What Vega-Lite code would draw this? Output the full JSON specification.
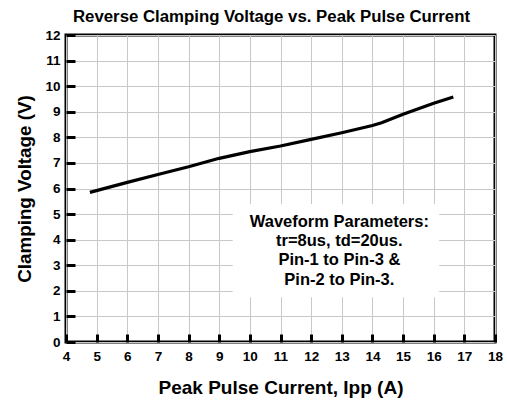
{
  "$schema": "https://vega.github.io/schema/vega-lite/v6.json",
  "width": 429,
  "height": 307,
  "autosize": "none",
  "padding": {"left": 66, "top": 35, "right": 12, "bottom": 59},
  "background": "white",
  "config": {
    "view": {"stroke": "black", "strokeWidth": 3},
    "font": "Liberation Sans"
  },
  "title": {
    "text": "Reverse Clamping Voltage vs. Peak Pulse Current",
    "font": "Liberation Sans",
    "fontSize": 16.8,
    "fontWeight": "bold",
    "color": "black",
    "anchor": "middle",
    "offset": 2,
    "dx": -9
  },
  "encoding": {
    "x": {
      "field": "x",
      "type": "quantitative",
      "scale": {"domain": [4, 18], "nice": false, "zero": false},
      "axis": {
        "values": [4, 5, 6, 7, 8, 9, 10, 11, 12, 13, 14, 15, 16, 17, 18],
        "grid": true,
        "gridColor": "#c8c8c8",
        "gridWidth": 1,
        "domain": false,
        "tickSize": -8,
        "tickWidth": 3,
        "tickColor": "black",
        "labelFont": "Liberation Sans",
        "labelFontWeight": "bold",
        "labelFontSize": 13.5,
        "labelColor": "black",
        "labelPadding": 15,
        "labelFlush": false,
        "labelOverlap": false,
        "title": "Peak Pulse Current, Ipp (A)",
        "titleFont": "Liberation Sans",
        "titleFontSize": 19,
        "titleFontWeight": "bold",
        "titleColor": "black",
        "titlePadding": 16
      }
    },
    "y": {
      "field": "y",
      "type": "quantitative",
      "scale": {"domain": [0, 12], "nice": false, "zero": false},
      "axis": {
        "values": [0, 1, 2, 3, 4, 5, 6, 7, 8, 9, 10, 11, 12],
        "grid": true,
        "gridColor": "#c8c8c8",
        "gridWidth": 1,
        "domain": false,
        "tickSize": -9,
        "tickWidth": 3,
        "tickColor": "black",
        "labelFont": "Liberation Sans",
        "labelFontWeight": "bold",
        "labelFontSize": 13.5,
        "labelColor": "black",
        "labelPadding": 15,
        "labelFlush": false,
        "labelOverlap": false,
        "title": "Clamping Voltage (V)",
        "titleFont": "Liberation Sans",
        "titleFontSize": 18.8,
        "titleFontWeight": "bold",
        "titleColor": "black",
        "titlePadding": 10
      }
    }
  },
  "layer": [
    {
      "data": {"values": [{"x": 9.44, "x2": 16.18, "y": 1.75, "y2": 5.39}]},
      "mark": {"type": "rect", "fill": "white", "stroke": null},
      "encoding": {
        "x2": {"field": "x2"},
        "y2": {"field": "y2"}
      }
    },
    {
      "data": {
        "values": [
          {"x": 4.78, "y": 5.85},
          {"x": 6, "y": 6.24},
          {"x": 7, "y": 6.55},
          {"x": 8, "y": 6.85},
          {"x": 9, "y": 7.18},
          {"x": 10, "y": 7.44},
          {"x": 11, "y": 7.66},
          {"x": 12, "y": 7.92},
          {"x": 13, "y": 8.18},
          {"x": 14, "y": 8.46},
          {"x": 14.3, "y": 8.57},
          {"x": 15, "y": 8.9},
          {"x": 16, "y": 9.33},
          {"x": 16.64, "y": 9.58}
        ]
      },
      "mark": {"type": "line", "color": "black", "strokeWidth": 3.2, "strokeCap": "butt"}
    },
    {
      "data": {
        "values": [
          {"x": 12.92, "y": 4.5, "label": ["Waveform Parameters:", "tr=8us, td=20us.", "Pin-1 to Pin-3 &", "Pin-2 to Pin-3."]}
        ]
      },
      "mark": {
        "type": "text",
        "align": "center",
        "baseline": "alphabetic",
        "lineHeight": 19.3,
        "font": "Liberation Sans",
        "fontSize": 16.5,
        "fontWeight": "bold",
        "color": "black"
      },
      "encoding": {"text": {"field": "label"}}
    }
  ]
}
